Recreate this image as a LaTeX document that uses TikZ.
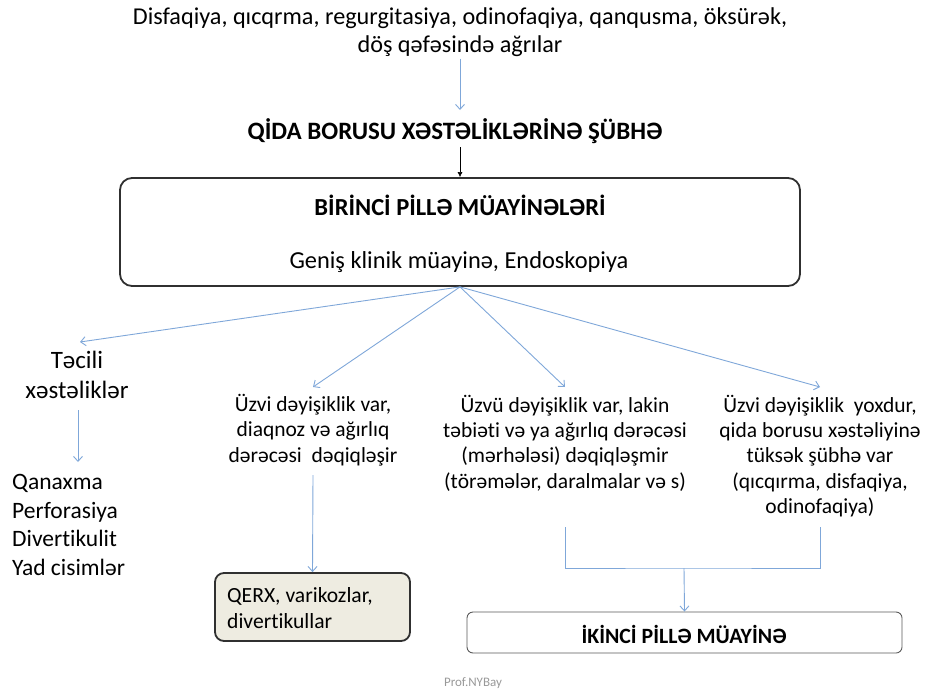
\documentclass[tikz,border=0pt]{standalone}
\usepackage{fontspec}
\setmainfont[Ligatures=NoCommon]{Carlito}
\usepackage{xcolor}
\usetikzlibrary{arrows.meta}

\definecolor{arrowblue}{HTML}{7FA7D9}
\definecolor{boxbeige}{HTML}{EEECE1}
\definecolor{boxline}{HTML}{303030}

\tikzset{
  flow/.style={draw=arrowblue, line width=0.9pt, -{Straight Barb[length=5pt,width=9pt]}},
  txt/.style={align=center, font=\fontsize{21.5}{25.3}\selectfont, inner sep=2pt},
  stagebox/.style={draw=boxline, line width=1.8pt, rounded corners=12pt}
}

\begin{document}
\begin{tikzpicture}[x=1pt,y=-1pt]
            \useasboundingbox (0,0) rectangle (925,693);

            \node[align=center, font=\fontsize{24.2}{28}\selectfont, inner sep=2pt] (symp) at (460,32)
                {Disfaqiya, qıcqrma, regurgitasiya, odinofaqiya, qanqusma, öksürək,\\ döş qəfəsində ağrılar};
            \node[font=\bfseries\fontsize{25}{28}\selectfont] (susp) at (455,131) {QİDA BORUSU XƏSTƏLİKLƏRİNƏ ŞÜBHƏ};

            \node[stagebox, minimum width=680pt, minimum height=108pt] (b1) at (460,232) {};
            \node[font=\bfseries\fontsize{24.5}{28}\selectfont] (b1t) at (460,205) {BİRİNCİ PİLLƏ MÜAYİNƏLƏRİ};
            \node[font=\fontsize{24.4}{28}\selectfont] (b1s) at (459,262) {Geniş klinik müayinə, Endoskopiya};

            \draw[flow] (symp) -- (460,110) coordinate (s1);
            \draw[-{Latex[length=5pt,width=5pt]}, line width=0.6pt] (susp.south -| b1) -- (b1);

            % four branches
            \node[txt, font=\fontsize{25}{30}\selectfont] (tec) at (77,375) {Təcili\\ xəstəliklər};
            \node[txt] (n2) at (313,430) {Üzvi dəyişiklik var,\\ diaqnoz və ağırlıq\\ dərəcəsi\ \ dəqiqləşir};
            \node[txt] (n3) at (565,443) {Üzvü dəyişiklik var, lakin\\ təbiəti və ya ağırlıq dərəcəsi\\ (mərhələsi) dəqiqləşmir\\ (törəmələr, daralmalar və s)};
            \node[txt] (n4) at (820,456) {Üzvi dəyişiklik\ \ yoxdur,\\ qida borusu xəstəliyinə\\ tüksək şübhə var\\ (qıcqırma, disfaqiya,\\ odinofaqiya)};

            \draw[flow] (b1.south) -- (80,342);
            \draw[flow] (b1.south) -- (313,387);
            \draw[flow] (b1.south) -- (565,387);
            \draw[flow] (b1.south) -- (820,387);

            \node[align=left, anchor=north west, font=\fontsize{23.5}{28.7}\selectfont, inner sep=0pt] (list) at (12,474)
                {Qanaxma\\ Perforasiya\\ Divertikulit\\ Yad cisimlər};
            \draw[flow] (78,410) -- (78,462);

            \node[draw=boxline, fill=boxbeige, line width=1.8pt, rounded corners=9pt,
                  minimum width=195pt, minimum height=68pt] (qerx) at (312.5,607) {};
            \node[align=left, anchor=west, font=\fontsize{21.6}{26}\selectfont, inner sep=0pt] (qerxt) at (227,608)
                {QERX, varikozlar,\\ divertikullar};
            \draw[flow] (313,475) -- (qerx.north);

            \node[draw=boxline!80, line width=0.9pt, rounded corners=6pt,
                  minimum width=435pt, minimum height=41pt] (b2) at (684.5,632.5) {};
            \node[font=\bfseries\fontsize{21.8}{26}\selectfont] (b2t) at (684,634) {İKİNCİ PİLLƏ MÜAYİNƏ};

            \coordinate (j3) at (565,527);
            \coordinate (j4) at (820,527);
            \coordinate (m) at (684,568);
            \draw[draw=arrowblue, line width=0.9pt] (j3) |- (m) -| (j4);
            \draw[flow] (m) -- (b2.north);

            \node[text=gray!80, font=\fontsize{13}{15}\selectfont] (prof) at (473,683) {Prof.NYBay};
        \end{tikzpicture}
\end{document}
